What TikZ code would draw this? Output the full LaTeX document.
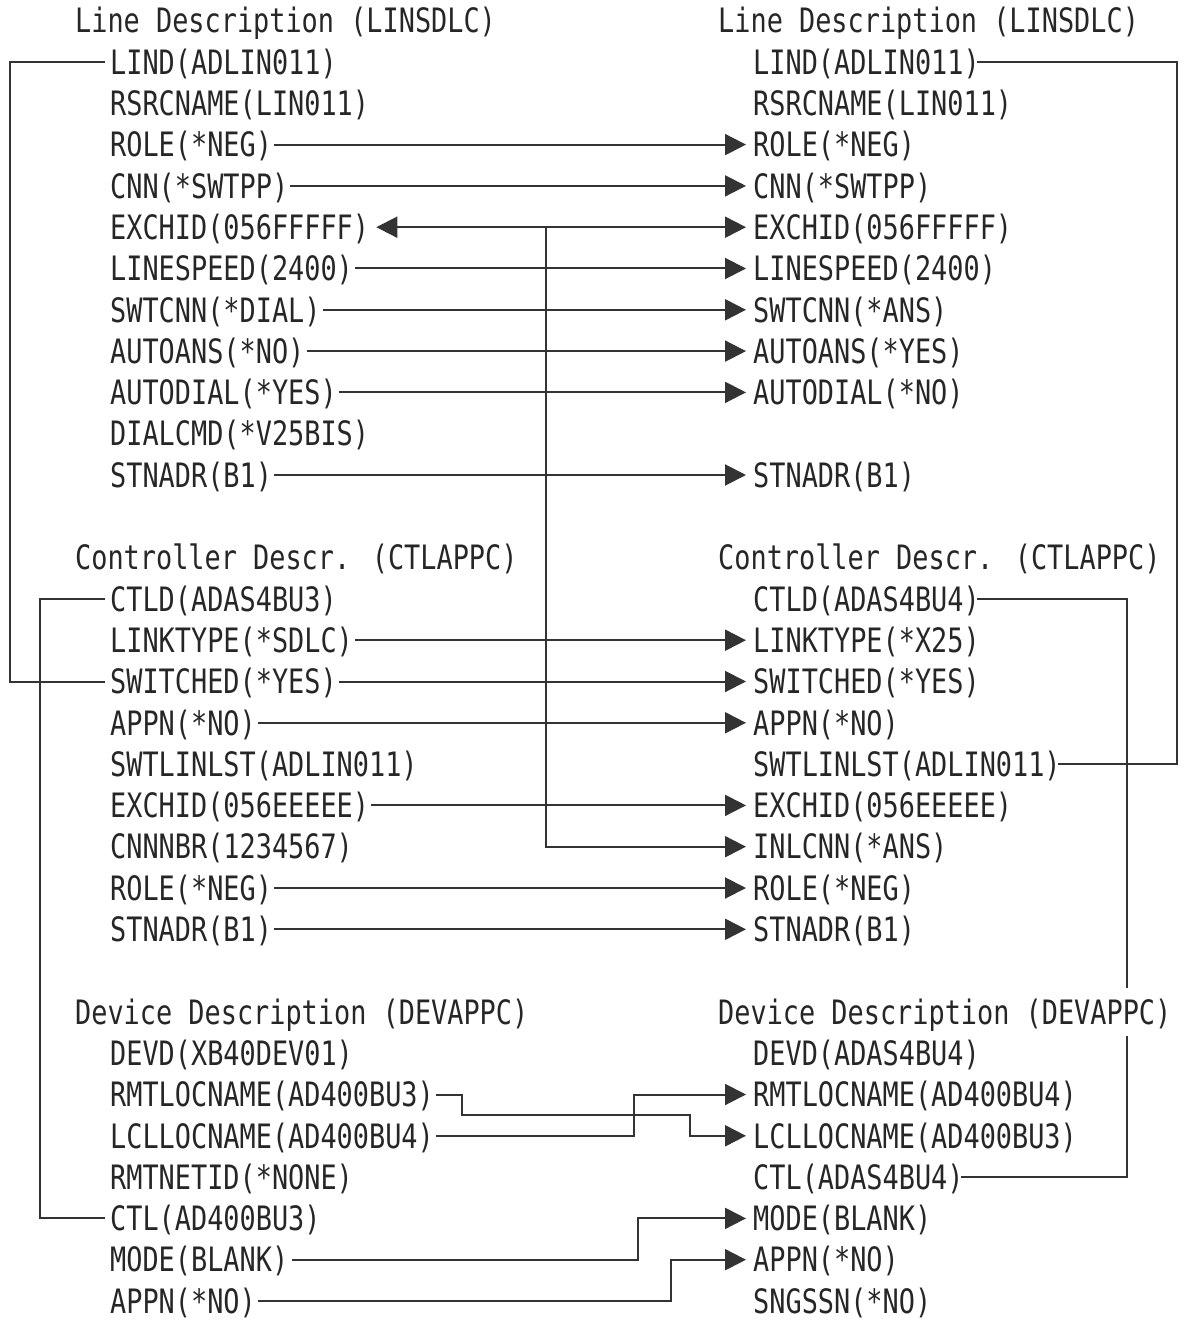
\documentclass[tikz,border=0pt]{standalone}
\usepackage{fontspec}
\usetikzlibrary{arrows.meta}
\newfontfamily\dmono[FakeStretch=0.80]{DejaVu Sans Mono}
\tikzset{
  item/.style={font=\dmono\fontsize{33.6}{40}\selectfont, text=black!85, anchor=west,
    inner sep=0pt, text height=24.5pt, text depth=0pt},
  head/.style={item, fill=white, inner ysep=12pt},
  ln/.style={draw=black!80, line width=2pt},
  arr/.style={ln, -{Triangle[length=21pt,width=21pt]}},
  arrb/.style={ln, {Triangle[length=21pt,width=21pt]}-{Triangle[length=21pt,width=21pt]}},
}
\begin{document}
\begin{tikzpicture}[x=1pt,y=-1pt]
\useasboundingbox (0,0) rectangle (1182,1321);
% left column items
\foreach \r/\t in {0/{LIND(ADLIN011)},1/{RSRCNAME(LIN011)},2/{ROLE(*NEG)},3/{CNN(*SWTPP)},
  4/{EXCHID(056FFFFF)},5/{LINESPEED(2400)},6/{SWTCNN(*DIAL)},7/{AUTOANS(*NO)},
  8/{AUTODIAL(*YES)},9/{DIALCMD(*V25BIS)},10/{STNADR(B1)},
  13/{CTLD(ADAS4BU3)},14/{LINKTYPE(*SDLC)},15/{SWITCHED(*YES)},16/{APPN(*NO)},
  17/{SWTLINLST(ADLIN011)},18/{EXCHID(056EEEEE)},19/{CNNNBR(1234567)},20/{ROLE(*NEG)},
  21/{STNADR(B1)},
  24/{DEVD(XB40DEV01)},25/{RMTLOCNAME(AD400BU3)},26/{LCLLOCNAME(AD400BU4)},
  27/{RMTNETID(*NONE)},28/{CTL(AD400BU3)},29/{MODE(BLANK)},30/{APPN(*NO)}}
  \node[item] (L\r) at (110,{62+41.3*\r}) {\t};
% right column items
\foreach \r/\t in {0/{LIND(ADLIN011)},1/{RSRCNAME(LIN011)},2/{ROLE(*NEG)},3/{CNN(*SWTPP)},
  4/{EXCHID(056FFFFF)},5/{LINESPEED(2400)},6/{SWTCNN(*ANS)},7/{AUTOANS(*YES)},
  8/{AUTODIAL(*NO)},10/{STNADR(B1)},
  13/{CTLD(ADAS4BU4)},14/{LINKTYPE(*X25)},15/{SWITCHED(*YES)},16/{APPN(*NO)},
  17/{SWTLINLST(ADLIN011)},18/{EXCHID(056EEEEE)},19/{INLCNN(*ANS)},20/{ROLE(*NEG)},
  21/{STNADR(B1)},
  24/{DEVD(ADAS4BU4)},25/{RMTLOCNAME(AD400BU4)},26/{LCLLOCNAME(AD400BU3)},
  27/{CTL(ADAS4BU4)},28/{MODE(BLANK)},29/{APPN(*NO)},30/{SNGSSN(*NO)}}
  \node[item] (R\r) at (753,{62+41.3*\r}) {\t};
% helper x positions
\coordinate (xa) at (10,0);
\coordinate (xb) at (40,0);
\coordinate (xc) at (1177,0);
\coordinate (xd) at (1127,0);
\coordinate (xm) at (546,0);
\coordinate (k1) at (462,1115);
\coordinate (k2) at (690,1115);
\coordinate (k3) at (634,0);
\coordinate (k4) at (638,0);
\coordinate (k5) at (671,0);
% side loops
\draw[ln] ([xshift=-5pt]L0.west) -- (xa |- L0.west) -- (xa |- L15.west) -- ([xshift=-5pt]L15.west);
\draw[ln] ([xshift=-5pt]L13.west) -- (xb |- L13.west) -- (xb |- L28.west) -- ([xshift=-5pt]L28.west);
\draw[ln] ([xshift=-3pt]R0.east) -- (xc |- R0.east) -- (xc |- R17.east) -- ([xshift=-3pt]R17.east);
\draw[ln] ([xshift=-3pt]R13.east) -- (xd |- R13.east) -- (xd |- R27.east) -- ([xshift=-3pt]R27.east);
% straight arrows
\foreach \r in {2,3,5,6,7,8,10,14,15,16,18,20,21}
  \draw[arr] ([xshift=2pt]L\r.east) -- ([xshift=-7pt]R\r.west);
% EXCHID
\draw[arrb] ([xshift=7pt]L4.east) -- ([xshift=-7pt]R4.west);
\draw[arr] (xm |- L4.east) -- (xm |- R19.west) -- ([xshift=-7pt]R19.west);
% device crossings
\draw[arr] ([xshift=2pt]L25.east) -- (k1 |- L25.east) -- (k1) -- (k2) -- (k2 |- R26.west) -- ([xshift=-7pt]R26.west);
\draw[arr] ([xshift=2pt]L26.east) -- (k3 |- L26.east) -- (k3 |- R25.west) -- ([xshift=-7pt]R25.west);
\draw[arr] ([xshift=4pt]L29.east) -- (k4 |- L29.east) -- (k4 |- R28.west) -- ([xshift=-7pt]R28.west);
\draw[arr] ([xshift=2pt]L30.east) -- (k5 |- L30.east) -- (k5 |- R29.west) -- ([xshift=-7pt]R29.west);
% headers
\node[head] (LH1) at (75,{62-41.3}) {Line Description (LINSDLC)};
\node[head] (RH1) at (718,{62-41.3}) {Line Description (LINSDLC)};
\node[head] (LH2) at (75,{62+41.3*12}) {Controller Descr. (CTLAPPC)};
\node[head] (RH2) at (718,{62+41.3*12}) {Controller Descr. (CTLAPPC)};
\node[head] (LH3) at (75,{62+41.3*23}) {Device Description (DEVAPPC)};
\node[head] (RH3) at (718,{62+41.3*23}) {Device Description (DEVAPPC)};
\end{tikzpicture}
\end{document}
